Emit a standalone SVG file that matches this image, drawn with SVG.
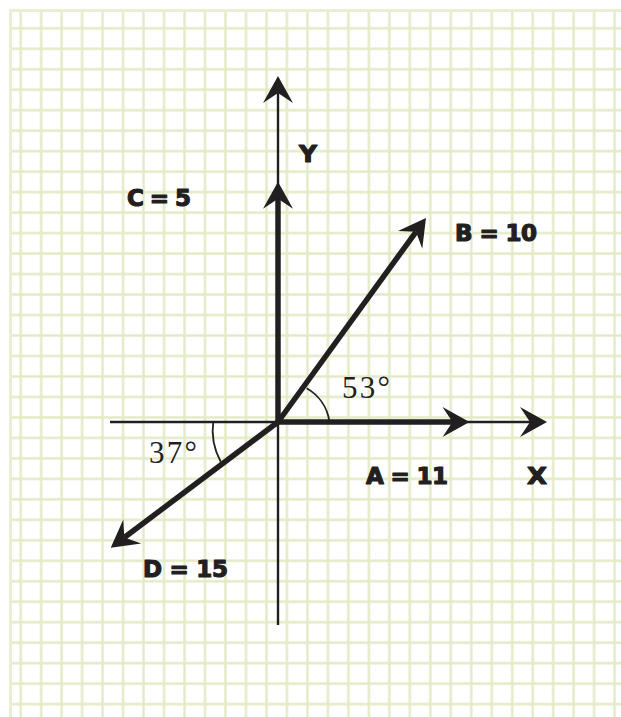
<svg xmlns="http://www.w3.org/2000/svg" width="621" height="717" viewBox="0 0 621 717">
  <style>
    .axis { stroke: #231f20; stroke-width: 2.4; fill: none; }
    .vec { stroke: #231f20; stroke-width: 5.5; fill: none; }
    .arc { stroke: #231f20; stroke-width: 1.8; fill: none; }
    .lbl { font-family: "DejaVu Sans", "Liberation Sans", sans-serif; font-weight: bold; font-size: 23px; fill: #231f20; stroke: #231f20; stroke-width: 1.2; stroke-linejoin: round; }
    .ang { font-family: "Liberation Serif", "DejaVu Serif", serif; font-size: 31px; fill: #231f20; }
  </style>
  <defs>
    <pattern id="grid" patternUnits="userSpaceOnUse" x="10.46" y="18.06" width="20.48" height="20.48">
      <path d="M10.24 0 V20.48 M0 10.24 H20.48" stroke="#e2ebc5" stroke-width="2.4" fill="none"/>
    </pattern>
    <marker id="head" markerUnits="userSpaceOnUse" orient="auto" refX="0" refY="0" markerWidth="60" markerHeight="60" overflow="visible">
      <path d="M17 0 L-10 -15 L0 0 L-10 15 Z" fill="#231f20"/>
    </marker>
  </defs>

  <rect width="621" height="717" fill="#ffffff"/>
  <g id="paper">
    <rect x="10" y="10" width="611" height="707" fill="url(#grid)"/>
    <path d="M10.5 717 V10.5 H621" stroke="#e8efd2" stroke-width="3" fill="none"/>
  </g>

  <g id="connectors">
    <line id="x-axis" class="axis" x1="110" y1="422" x2="530" y2="422" marker-end="url(#head)"/>
    <line id="y-axis" class="axis" x1="278" y1="625" x2="278" y2="93" marker-end="url(#head)"/>
    <line id="vec-A" class="vec" x1="278" y1="422" x2="452.5" y2="422" marker-end="url(#head)"/>
    <line id="vec-C" class="vec" x1="278" y1="422" x2="278" y2="198.7" marker-end="url(#head)"/>
    <line id="vec-B" class="vec" x1="278" y1="422" x2="416" y2="231.8" marker-end="url(#head)"/>
    <line id="vec-D" class="vec" x1="278" y1="422" x2="124.3" y2="537.5" marker-end="url(#head)"/>
    <path id="arc-53" class="arc" d="M306.7 388.3 A46 46 0 0 1 329.3 421"/>
    <path id="arc-37" class="arc" d="M213.3 421 A66 66 0 0 0 220.7 461.7"/>
  </g>

  <g id="label-Y"><text class="lbl" x="299" y="162" textLength="18" lengthAdjust="spacingAndGlyphs">Y</text></g>
  <g id="label-X"><text class="lbl" x="527" y="484" textLength="20" lengthAdjust="spacingAndGlyphs">X</text></g>
  <g id="label-C"><text class="lbl" x="127" y="206" textLength="64" lengthAdjust="spacing">C = 5</text></g>
  <g id="label-B"><text class="lbl" x="455" y="241" textLength="82" lengthAdjust="spacing">B = 10</text></g>
  <g id="label-A"><text class="lbl" x="366" y="484" textLength="82" lengthAdjust="spacing">A = 11</text></g>
  <g id="label-D"><text class="lbl" x="143" y="577" textLength="85" lengthAdjust="spacing">D = 15</text></g>
  <g id="angle-53"><text class="ang" x="342" y="398" textLength="48" lengthAdjust="spacing">53°</text></g>
  <g id="angle-37"><text class="ang" x="149" y="463" textLength="48" lengthAdjust="spacing">37°</text></g>
</svg>
